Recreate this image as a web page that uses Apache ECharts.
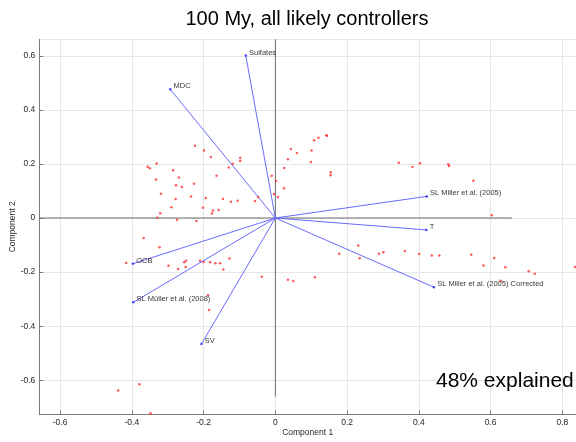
<!DOCTYPE html>
<html><head><meta charset="utf-8">
<script src="https://cdn.jsdelivr.net/npm/echarts@6/dist/echarts.min.js"></script>
<style>html,body{margin:0;padding:0;background:#fff}#c{width:576px;height:442px}</style>
</head><body><div id="c"></div>
<script>
const titleText = '100 My, all likely controllers';
const noteText = '48% explained';
const xAxisName = 'Component 1';
const yAxisName = 'Component 2';
const xTickLabels = [-0.6, -0.4, -0.2, 0, 0.2, 0.4, 0.6, 0.8];
const yTickLabels = [-0.6, -0.4, -0.2, 0, 0.2, 0.4, 0.6];

const varNames = ['Sulfates', 'MDC', 'SL Miller et al. (2005)', 'T', 'SL Miller et al. (2005) Corrected', 'OCB', 'SL Müller et al. (2008)', 'SV'];
const loadX = [-0.0825, -0.293, 0.422, 0.421, 0.442, -0.397, -0.396, -0.206];
const loadY = [0.601, 0.476, 0.080, -0.044, -0.256, -0.169, -0.312, -0.466];

const scoreX = [
  -0.224, -0.199, -0.180, -0.098, -0.098, -0.119, -0.130, -0.331, -0.356, -0.350,
  -0.285, -0.164, -0.269, -0.333, -0.227, -0.277, -0.261, -0.319, -0.235, -0.194,
  -0.278, -0.146, -0.124, -0.105, -0.057, -0.048, -0.010, 0.002, -0.004, 0.007,
  -0.290, -0.202, -0.174, -0.158, -0.177, -0.321, -0.329, -0.274, -0.220,
  0.144, 0.142, 0.120, 0.108, 0.043, 0.101, 0.060, 0.035, 0.099, 0.025, 0.154, 0.154, 0.024,
  0.344, 0.382, 0.403, 0.482, 0.484, 0.552, 0.603,
  -0.367, -0.323, -0.416, -0.298, -0.271, -0.254, -0.249, -0.250, -0.210, -0.200,
  -0.182, -0.167, -0.154, -0.128, -0.145, -0.038, -0.188, -0.185,
  -0.438, -0.379, -0.348,
  0.035, 0.050, 0.110, 0.178, 0.231, 0.235, 0.289, 0.301, 0.361, 0.401,
  0.436, 0.457, 0.546, 0.580, 0.610, 0.641, 0.628, 0.706, 0.723, 0.835
];
const scoreY = [
  0.267, 0.250, 0.226, 0.222, 0.211, 0.201, 0.187, 0.202, 0.190, 0.184,
  0.177, 0.156, 0.150, 0.142, 0.127, 0.121, 0.115, 0.090, 0.080, 0.074,
  0.070, 0.070, 0.060, 0.064, 0.063, 0.078, 0.156, 0.137, 0.089, 0.078,
  0.040, 0.038, 0.028, 0.030, 0.017, 0.018, 0.001, -0.006, -0.011,
  0.304, 0.306, 0.297, 0.288, 0.255, 0.250, 0.240, 0.217, 0.207, 0.185, 0.169, 0.158, 0.110,
  0.204, 0.189, 0.203, 0.199, 0.192, 0.138, 0.010,
  -0.074, -0.108, -0.166, -0.177, -0.189, -0.164, -0.158, -0.181, -0.158, -0.163,
  -0.164, -0.167, -0.167, -0.150, -0.190, -0.217, -0.286, -0.340,
  -0.638, -0.615, -0.722,
  -0.228, -0.233, -0.219, -0.132, -0.102, -0.149, -0.132, -0.127, -0.122, -0.133,
  -0.139, -0.139, -0.136, -0.176, -0.148, -0.182, -0.232, -0.197, -0.206, -0.181
];

const refLineX = [-0.659, 0.659];
const refLineY = [-0.661, 0.661];

const FONT = '"Liberation Sans", Arial, Helvetica, sans-serif';
const chart = echarts.init(document.getElementById('c'), null, {renderer: 'canvas'});

function tickFmt(list) {
  return function (v) {
    for (const t of list) { if (Math.abs(v - t) < 1e-6) return String(t); }
    return '';
  };
}

const axisCommon = {
  type: 'value',
  splitNumber: 7,
  axisLine: {show: true, onZero: false, lineStyle: {color: '#7a7a7a', width: 1}},
  axisTick: {show: true, inside: true, length: 4, lineStyle: {color: '#7a7a7a'}},
  splitLine: {show: true, lineStyle: {color: '#e6e6e6', width: 1}},
  nameTextStyle: {fontFamily: FONT, fontSize: 8.5, color: '#262626'},
  nameLocation: 'middle',
  nameMoveOverlap: false
};

const vectorSeries = varNames.map((n, i) => ({
  type: 'line',
  data: [[0, 0], [loadX[i], loadY[i]]],
  showSymbol: false,
  symbol: 'none',
  lineStyle: {color: '#6a6aff', width: 1},
  silent: true,
  z: 3,
  animation: false
}));

const option = {
  animation: false,
  backgroundColor: '#ffffff',
  grid: {left: 39.3, right: 0, top: 39.3, bottom: 27.7, containLabel: false, outerBoundsMode: 'none'},
  xAxis: Object.assign({}, axisCommon, {
    min: -0.658, max: 0.838,
    name: xAxisName, nameGap: 14,
    axisLabel: {showMinLabel: false, showMaxLabel: false, margin: 4, fontFamily: FONT, fontSize: 8.5, color: '#262626', formatter: tickFmt(xTickLabels)}
  }),
  yAxis: Object.assign({}, axisCommon, {
    min: -0.726, max: 0.661,
    name: yAxisName, nameGap: 22,
    axisLabel: {showMinLabel: false, showMaxLabel: false, margin: 4, fontFamily: FONT, fontSize: 8.5, color: '#262626', formatter: tickFmt(yTickLabels)}
  }),
  graphic: [
    {type: 'text', x: 307, y: 19, style: {text: titleText, fontFamily: FONT, fontSize: 20, fill: '#000', textAlign: 'center', textVerticalAlign: 'middle'}, z: 10},
    {type: 'text', x: 436, y: 381, style: {text: noteText, fontFamily: FONT, fontSize: 21, fill: '#000', textAlign: 'left', textVerticalAlign: 'middle'}, z: 10}
  ],
  series: [
    {
      type: 'line', data: [[refLineX[0], 0], [refLineX[1], 0]], symbol: 'none',
      lineStyle: {color: '#6e6e6e', width: 1}, silent: true, z: 2
    },
    {
      type: 'line', data: [[0, refLineY[0]], [0, refLineY[1]]], symbol: 'none',
      lineStyle: {color: '#6e6e6e', width: 1}, silent: true, z: 2
    },
    ...vectorSeries,
    {
      type: 'scatter',
      data: varNames.map((n, i) => [loadX[i], loadY[i], n]),
      symbol: 'circle', symbolSize: 2.5,
      itemStyle: {color: '#1f1fff'},
      label: {
        show: true, position: 'right', distance: 2, offset: [0, -3],
        formatter: p => p.data[2],
        fontFamily: FONT, fontSize: 7.5, color: '#000'
      },
      z: 5, silent: true
    },
    {
      type: 'scatter',
      data: scoreX.map((x, i) => [x, scoreY[i]]),
      symbol: 'circle', symbolSize: 2.5,
      itemStyle: {color: '#ff3030'},
      clip: false,
      z: 4, silent: true
    }
  ]
};
chart.setOption(option);
</script>
</body></html>
